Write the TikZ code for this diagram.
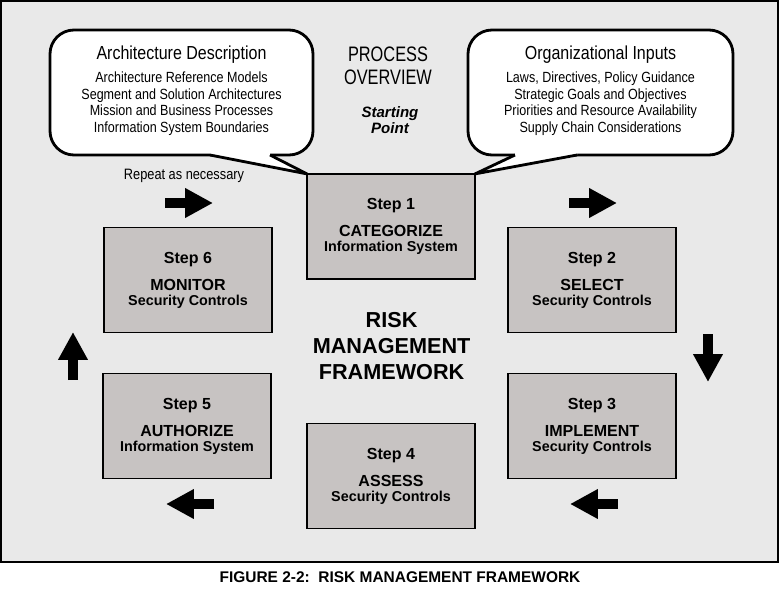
\documentclass[tikz,border=0pt]{standalone}
\usepackage{fontspec}
\setmainfont{Liberation Sans}
\newfontfamily\narrowfont[FakeStretch=0.85]{Liberation Sans}
\newfontfamily\procfont[FakeStretch=0.78]{Liberation Sans}
\usetikzlibrary{arrows.meta}
\definecolor{framegray}{RGB}{233,233,233}
\definecolor{stepgray}{RGB}{199,195,194}

\begin{document}
\begin{tikzpicture}[
	stepbox/.style={draw=black, line width=1.4pt, fill=stepgray, minimum width=4.2cm, minimum height=2.625cm, inner sep=0pt, outer sep=0pt, align=center, font=\fontsize{11.4}{10.7}\selectfont\bfseries},
	callbox/.style={draw=black, line width=2pt, fill=white, rounded corners=0.6cm, minimum height=3.125cm, inner sep=0pt, outer sep=0pt},
	calltext/.style={align=center, font=\narrowfont\fontsize{10.5}{11.7}\selectfont},
	pointer/.style={draw=black, line width=2pt, line join=round},
	blockarrow/.style={line width=7.1pt, -{Triangle[length=19.9pt,width=19.9pt]}}
	]
					\fill[white] (0,0) rectangle (19.5,-14.975);
					\useasboundingbox (0,0) rectangle (19.5,-14.975);
					\draw[line width=1.4pt, fill=framegray] (0.025,-0.025) rectangle (19.45,-14.04);
					
					% the six steps
					\node[stepbox] (s1) at (9.775,-5.66) {Step 1\\[8.5pt]CATEGORIZE\\{\fontsize{10.2}{10.7}\selectfont Information System}};
					\node[stepbox] (s2) at (14.8,-7.0) {Step 2\\[8.5pt]SELECT\\{\fontsize{10.2}{10.7}\selectfont Security Controls}};
					\node[stepbox] (s3) at (14.8,-10.65) {Step 3\\[8.5pt]IMPLEMENT\\{\fontsize{10.2}{10.7}\selectfont Security Controls}};
					\node[stepbox] (s4) at (9.775,-11.9) {Step 4\\[8.5pt]ASSESS\\{\fontsize{10.2}{10.7}\selectfont Security Controls}};
					\node[stepbox] (s5) at (4.675,-10.65) {Step 5\\[8.5pt]AUTHORIZE\\{\fontsize{10.2}{10.7}\selectfont Information System}};
					\node[stepbox] (s6) at (4.7,-7.0) {Step 6\\[8.5pt]MONITOR\\{\fontsize{10.2}{10.7}\selectfont Security Controls}};
					
					% callouts
					\node[callbox, minimum width=6.575cm] (archbox) at (4.5375,-2.3125) {};
					\fill[white] ([xshift=0.7125cm,yshift=0.1cm]archbox.south) -- ([xshift=0.7125cm]archbox.south) -- (s1.north west) -- ([xshift=2.2125cm]archbox.south) -- ([xshift=2.2125cm,yshift=0.1cm]archbox.south) -- cycle;
					\draw[pointer] ([xshift=0.7125cm]archbox.south) -- (s1.north west) -- ([xshift=2.2125cm]archbox.south);
					\node[calltext] (archtxt) at ([yshift=0.05cm]archbox.center) {{\fontsize{13.4}{11.7}\selectfont Architecture Description}\\[5pt]Architecture Reference Models\\Segment and Solution Architectures\\Mission and Business Processes\\Information System Boundaries};
					
					\node[callbox, minimum width=6.625cm] (orgbox) at (15.0125,-2.3125) {};
					\fill[white] ([xshift=-2.1375cm,yshift=0.1cm]orgbox.south) -- ([xshift=-2.1375cm]orgbox.south) -- (s1.north east) -- ([xshift=-0.5875cm]orgbox.south) -- ([xshift=-0.5875cm,yshift=0.1cm]orgbox.south) -- cycle;
					\draw[pointer] ([xshift=-2.1375cm]orgbox.south) -- (s1.north east) -- ([xshift=-0.5875cm]orgbox.south);
					\node[calltext] (orgtxt) at ([yshift=0.05cm]orgbox.center) {{\fontsize{13.4}{11.7}\selectfont Organizational Inputs}\\[5pt]Laws, Directives, Policy Guidance\\Strategic Goals and Objectives\\Priorities and Resource Availability\\Supply Chain Considerations};
					
					% titles
					\node[align=center, font=\procfont\fontsize{14.9}{16.4}\selectfont] (overview) at (9.7,-1.65) {PROCESS\\OVERVIEW};
					\node[align=center, font=\fontsize{10.7}{11.4}\selectfont\bfseries\itshape] (start) at (9.75,-3.0) {Starting\\Point};
					\node[font=\narrowfont\fontsize{10.7}{12}\selectfont] (repeat) at (4.6,-4.4) {Repeat as necessary};
					\node[align=center, font=\fontsize{15.4}{18.5}\selectfont\bfseries] (rmf) at (9.79,-8.66) {RISK\\MANAGEMENT\\FRAMEWORK};
					\node[font=\fontsize{11}{13}\selectfont\bfseries] (caption) at (10.0,-14.425) {FIGURE 2-2:\ \ RISK MANAGEMENT FRAMEWORK};
					
					% arrows round the cycle
					\coordinate (a61s) at (4.125,-5.075);
					\coordinate (a61e) at (5.325,-5.075);
					\coordinate (a12s) at (14.225,-5.075);
					\coordinate (a12e) at (15.425,-5.075);
					\coordinate (a23s) at (17.7,-8.35);
					\coordinate (a23e) at (17.7,-9.55);
					\coordinate (a34s) at (15.45,-12.6);
					\coordinate (a34e) at (14.25,-12.6);
					\coordinate (a45s) at (5.35,-12.6);
					\coordinate (a45e) at (4.15,-12.6);
					\coordinate (a56s) at (1.825,-9.5);
					\coordinate (a56e) at (1.825,-8.3);
					\draw[blockarrow] (a61s) -- (a61e);
					\draw[blockarrow] (a12s) -- (a12e);
					\draw[blockarrow] (a23s) -- (a23e);
					\draw[blockarrow] (a34s) -- (a34e);
					\draw[blockarrow] (a45s) -- (a45e);
					\draw[blockarrow] (a56s) -- (a56e);
\end{tikzpicture}
\end{document}
